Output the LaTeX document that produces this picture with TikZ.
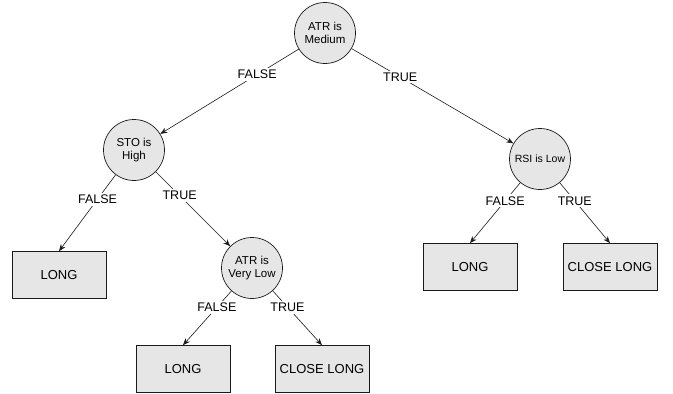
\documentclass[tikz,border=0pt]{standalone}
\usepackage{fontspec}
\setmainfont{Liberation Sans}
\usetikzlibrary{arrows.meta}
\definecolor{dtink}{HTML}{1A1A1A}
\definecolor{dtfill}{HTML}{E6E6E6}
\tikzset{
  dt test/.style={circle, draw=dtink, fill=dtfill, line width=0.7pt, minimum size=61pt,
    inner sep=0pt, align=center, font=\fontsize{11.5}{13.5}\selectfont},
  dt leaf/.style={draw=dtink, fill=dtfill, line width=0.7pt, minimum width=94pt,
    minimum height=47pt, inner sep=0pt, font=\fontsize{13}{15}\selectfont},
  dt arrow/.style={-{Stealth[length=7pt,width=5.5pt]}, line width=0.6pt, draw=dtink},
  dt label/.style={fill=white, inner sep=2pt, font=\fontsize{12.5}{14}\selectfont}
}
\begin{document}
\begin{tikzpicture}[x=1pt, y=-1pt]
  \useasboundingbox (0,0) rectangle (673,394);
  % tests
  \node[dt test] (atrmed) at (325,33) {ATR is\\Medium};
  \node[dt test] (stohigh) at (134,150) {STO is\\High};
  \node[dt test] (atrlow) at (252,268) {ATR is\\Very Low};
  \node[dt test, font=\fontsize{10.5}{12}\selectfont] (rsilow) at (540,159) {RSI is Low};
  % leaves
  \node[dt leaf] (long1) at (59,275) {LONG};
  \node[dt leaf] (long2) at (183,369) {LONG};
  \node[dt leaf] (close1) at (322,369) {CLOSE LONG};
  \node[dt leaf] (long3) at (470,267) {LONG};
  \node[dt leaf] (close2) at (610,267) {CLOSE LONG};
  % branches
  \draw[dt arrow] (atrmed) -- node[dt label, pos=0.3] {FALSE} (stohigh);
  \draw[dt arrow] (atrmed) -- node[dt label, pos=0.3] {TRUE} (rsilow);
  \draw[dt arrow] (stohigh) -- node[dt label, pos=0.32] {FALSE} (long1.north);
  \draw[dt arrow] (stohigh) -- node[dt label, pos=0.32] {TRUE} (atrlow);
  \draw[dt arrow] (atrlow) -- node[dt label, pos=0.3] {FALSE} (long2.north);
  \draw[dt arrow] (atrlow) -- node[dt label, pos=0.3] {TRUE} (close1.north);
  \draw[dt arrow] (rsilow) -- node[dt label, pos=0.3] {FALSE} (long3.north);
  \draw[dt arrow] (rsilow) -- node[dt label, pos=0.3] {TRUE} (close2.north);
\end{tikzpicture}
\end{document}
